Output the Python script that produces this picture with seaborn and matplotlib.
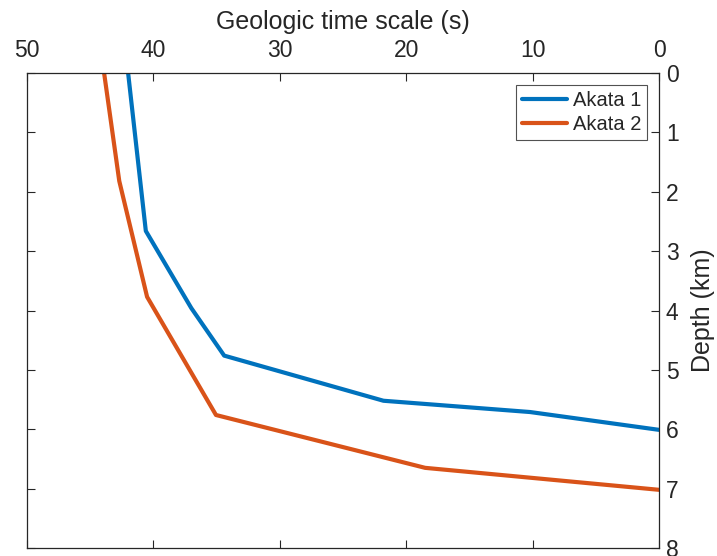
import numpy as np
import pandas as pd
import matplotlib
matplotlib.use("Agg")
import matplotlib.pyplot as plt
import seaborn as sns

sns.set_style("white")
plt.rcParams['font.family'] = ['Liberation Sans', 'DejaVu Sans']

# Data
akata1_time = [42.0, 40.6, 37.0, 34.4, 21.8, 10.2, 0.0]
akata1_depth = [0.0, 2.66, 3.96, 4.76, 5.52, 5.71, 6.01]
akata2_time = [43.9, 42.7, 40.5, 35.05, 18.5, 0.0]
akata2_depth = [0.0, 1.82, 3.77, 5.76, 6.65, 7.02]
series_names = ["Akata 1", "Akata 2"]
x_ticks = [50, 40, 30, 20, 10, 0]
y_ticks = [0, 1, 2, 3, 4, 5, 6, 7, 8]

df = pd.DataFrame({
    "time": akata1_time + akata2_time,
    "depth": akata1_depth + akata2_depth,
    "well": [series_names[0]] * len(akata1_time) + [series_names[1]] * len(akata2_time),
})

fig = plt.figure(figsize=(7.17, 5.56), dpi=100)
ax = fig.add_axes([27 / 717, 8 / 556, (659 - 27) / 717, (548 - 73) / 556])

sns.lineplot(data=df, x="time", y="depth", hue="well", sort=False, estimator=None,
             palette=["#0072BD", "#D95319"], linewidth=3, ax=ax)

ax.set_xlim(50, 0)
ax.set_ylim(8, 0)
ax.set_xticks(x_ticks)
ax.set_yticks(y_ticks)
fs = 16.5
ax.xaxis.tick_top()
ax.xaxis.set_label_position("top")
ax.yaxis.tick_right()
ax.yaxis.set_label_position("right")
ax.tick_params(axis="both", which="both", direction="in", length=6, width=0.8,
               color="#262626", labelsize=fs, labelcolor="#262626",
               top=True, bottom=True, left=True, right=True,
               labeltop=True, labelbottom=False, labelleft=False, labelright=True)
ax.tick_params(axis="x", pad=8)
ax.tick_params(axis="y", pad=5)
ax.set_xlabel("Geologic time scale (s)", fontsize=18, color="#262626", labelpad=7)
ax.set_ylabel("Depth (km)", fontsize=18, color="#262626", labelpad=9)
for s in ax.spines.values():
    s.set_visible(True)
    s.set_color("#262626")
    s.set_linewidth(0.9)

leg = ax.legend(title=None, loc="upper right", fontsize=14.5, frameon=True,
                fancybox=False, edgecolor="#262626", handlelength=2.2,
                borderpad=0.3, labelspacing=0.25, handletextpad=0.3,
                borderaxespad=0, bbox_to_anchor=(0.981, 0.975))
leg.get_frame().set_linewidth(0.8)

fig.savefig("out.png", dpi=100)
